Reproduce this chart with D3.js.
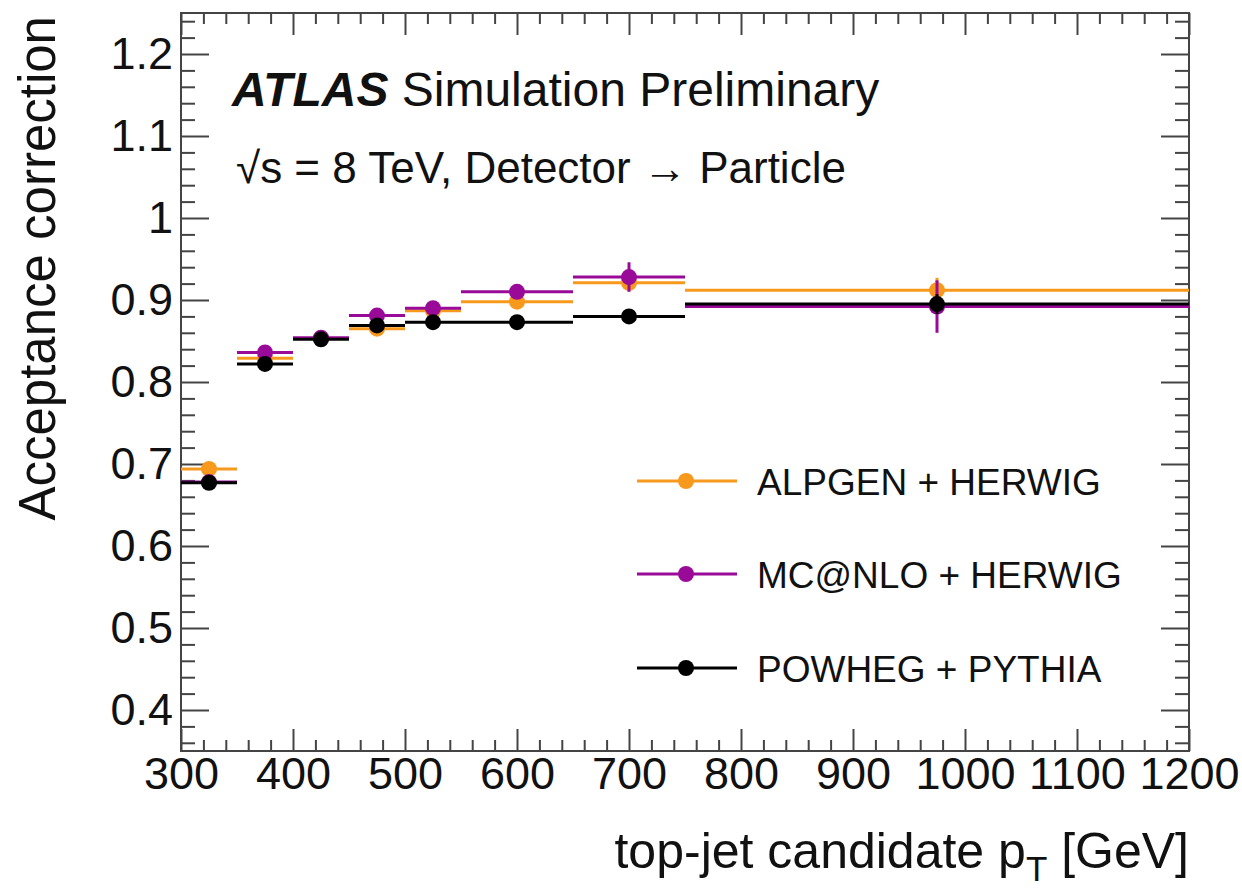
<!DOCTYPE html>
<html>
<head>
<meta charset="utf-8">
<script src="https://cdn.jsdelivr.net/npm/d3@7"></script>
<style>
  body { margin: 0; background: #fff; }
  text { font-family: "Liberation Sans", Arial, Helvetica, sans-serif; fill: #111; }
</style>
</head>
<body>
<script>
// bins of top-jet candidate pT [GeV]
var binLow  = [300, 350, 400, 450, 500, 550, 650, 750];
var binHigh = [350, 400, 450, 500, 550, 650, 750, 1200];
var binCenter = [325, 375, 425, 475, 525, 600, 700, 975];

// acceptance correction per generator
var alpgenVal = [0.694, 0.829, 0.853, 0.865, 0.887, 0.898, 0.921, 0.912];
var alpgenErr = [0.004, 0.004, 0.003, 0.004, 0.004, 0.005, 0.010, 0.015];
var mcnloVal  = [0.678, 0.836, 0.854, 0.881, 0.890, 0.910, 0.928, 0.892];
var mcnloErr  = [0.004, 0.004, 0.003, 0.004, 0.004, 0.006, 0.018, 0.032];
var powhegVal = [0.677, 0.822, 0.852, 0.869, 0.873, 0.873, 0.880, 0.895];
var powhegErr = [0.003, 0.003, 0.003, 0.003, 0.003, 0.004, 0.005, 0.012];

var seriesNames  = ["ALPGEN + HERWIG", "MC@NLO + HERWIG", "POWHEG + PYTHIA"];
var seriesColors = ["#f7991c", "#990a99", "#000000"];

var xTicks = [300, 400, 500, 600, 700, 800, 900, 1000, 1100, 1200];
var xTickLabels = ["300", "400", "500", "600", "700", "800", "900", "1000", "1100", "1200"];
var yTicks = [0.4, 0.5, 0.6, 0.7, 0.8, 0.9, 1.0, 1.1, 1.2];
var yTickLabels = ["0.4", "0.5", "0.6", "0.7", "0.8", "0.9", "1", "1.1", "1.2"];

var width = 1242, height = 892;
var margin = { top: 13, right: 53, bottom: 141, left: 181 };

var svg = d3.select("body").append("svg")
    .attr("width", width)
    .attr("height", height);

var x = d3.scaleLinear()
    .domain([300, 1200])
    .range([margin.left, width - margin.right]);
var y = d3.scaleLinear()
    .domain([0.35, 1.25])
    .range([height - margin.bottom, margin.top]);

var axisColor = "#444";
var xMinor = d3.range(300, 1201, 20).filter(function(v) { return v % 100 !== 0; });
var yMinor = d3.range(36, 125, 2).map(function(v) { return v / 100; })
    .filter(function(v) { return Math.round(v * 100) % 10 !== 0; });

function styleAxis(g) {
    g.select(".domain").remove();
    g.selectAll("line").attr("stroke", axisColor).attr("stroke-width", 2);
    g.selectAll("text").style("font-size", "45px").attr("fill", "#111");
}

// bottom axis
svg.append("g")
    .attr("transform", "translate(0," + y.range()[0] + ")")
    .call(d3.axisBottom(x).tickValues(xTicks)
        .tickFormat(function(d, i) { return xTickLabels[i]; })
        .tickSizeInner(-22).tickSizeOuter(0).tickPadding(6))
    .call(styleAxis);
svg.append("g")
    .attr("transform", "translate(0," + y.range()[0] + ")")
    .call(d3.axisBottom(x).tickValues(xMinor).tickFormat("").tickSizeInner(-11).tickSizeOuter(0))
    .call(styleAxis);
// top axis
svg.append("g")
    .attr("transform", "translate(0," + y.range()[1] + ")")
    .call(d3.axisTop(x).tickValues(xTicks).tickFormat("").tickSizeInner(-22).tickSizeOuter(0))
    .call(styleAxis);
svg.append("g")
    .attr("transform", "translate(0," + y.range()[1] + ")")
    .call(d3.axisTop(x).tickValues(xMinor).tickFormat("").tickSizeInner(-11).tickSizeOuter(0))
    .call(styleAxis);
// left axis
svg.append("g")
    .attr("transform", "translate(" + x.range()[0] + ",0)")
    .call(d3.axisLeft(y).tickValues(yTicks)
        .tickFormat(function(d, i) { return yTickLabels[i]; })
        .tickSizeInner(-28).tickSizeOuter(0).tickPadding(8))
    .call(styleAxis);
svg.append("g")
    .attr("transform", "translate(" + x.range()[0] + ",0)")
    .call(d3.axisLeft(y).tickValues(yMinor).tickFormat("").tickSizeInner(-14).tickSizeOuter(0))
    .call(styleAxis);
// right axis
svg.append("g")
    .attr("transform", "translate(" + x.range()[1] + ",0)")
    .call(d3.axisRight(y).tickValues(yTicks).tickFormat("").tickSizeInner(-28).tickSizeOuter(0))
    .call(styleAxis);
svg.append("g")
    .attr("transform", "translate(" + x.range()[1] + ",0)")
    .call(d3.axisRight(y).tickValues(yMinor).tickFormat("").tickSizeInner(-14).tickSizeOuter(0))
    .call(styleAxis);

// frame
svg.append("rect")
    .attr("x", x.range()[0])
    .attr("y", y.range()[1])
    .attr("width", x.range()[1] - x.range()[0])
    .attr("height", y.range()[0] - y.range()[1])
    .attr("fill", "none")
    .attr("stroke", axisColor)
    .attr("stroke-width", 2);

// data
var allVals = [alpgenVal, mcnloVal, powhegVal];
var allErrs = [alpgenErr, mcnloErr, powhegErr];

allVals.forEach(function(vals, s) {
    var pts = vals.map(function(v, i) {
        return { lo: binLow[i], hi: binHigh[i], c: binCenter[i], v: v, e: allErrs[s][i] };
    });
    var g = svg.append("g").attr("stroke", seriesColors[s]).attr("fill", seriesColors[s]);
    g.selectAll(".hbar").data(pts).enter().append("line")
        .attr("x1", function(d) { return x(d.lo); })
        .attr("x2", function(d) { return x(d.hi); })
        .attr("y1", function(d) { return y(d.v); })
        .attr("y2", function(d) { return y(d.v); })
        .attr("stroke-width", 3);
    g.selectAll(".vbar").data(pts).enter().append("line")
        .attr("x1", function(d) { return x(d.c); })
        .attr("x2", function(d) { return x(d.c); })
        .attr("y1", function(d) { return y(d.v - d.e); })
        .attr("y2", function(d) { return y(d.v + d.e); })
        .attr("stroke-width", 3);
    g.selectAll("circle").data(pts).enter().append("circle")
        .attr("cx", function(d) { return x(d.c); })
        .attr("cy", function(d) { return y(d.v); })
        .attr("r", 8)
        .attr("stroke", "none");
});

// legend
var legendY = [481, 574, 668];
seriesNames.forEach(function(name, i) {
    svg.append("line")
        .attr("x1", 637).attr("x2", 737)
        .attr("y1", legendY[i]).attr("y2", legendY[i])
        .attr("stroke", seriesColors[i]).attr("stroke-width", 3);
    svg.append("circle")
        .attr("cx", 686).attr("cy", legendY[i]).attr("r", 8)
        .attr("fill", seriesColors[i]);
    svg.append("text")
        .attr("x", 757).attr("y", legendY[i] + 14)
        .style("font-size", "37px")
        .text(name);
});

// labels
var atlas = svg.append("text").attr("x", 232).attr("y", 106).style("font-size", "48px");
atlas.append("tspan").style("font-weight", "bold").style("font-style", "italic").text("ATLAS");
atlas.append("tspan").text(" Simulation Preliminary");

svg.append("text")
    .attr("x", 236).attr("y", 183)
    .style("font-size", "44px")
    .text("\u221As = 8 TeV, Detector \u2192 Particle");

var xt = svg.append("text")
    .attr("x", x.range()[1]).attr("y", 868)
    .attr("text-anchor", "end")
    .style("font-size", "50px");
xt.append("tspan").text("top-jet candidate p");
xt.append("tspan").attr("dy", 13).style("font-size", "35px").text("T");
xt.append("tspan").attr("dy", -13).text(" [GeV]");

svg.append("text")
    .attr("transform", "translate(55," + (y.range()[1] + 3) + ") rotate(-90)")
    .attr("text-anchor", "end")
    .style("font-size", "51px")
    .text("Acceptance correction");
</script>
</body>
</html>
